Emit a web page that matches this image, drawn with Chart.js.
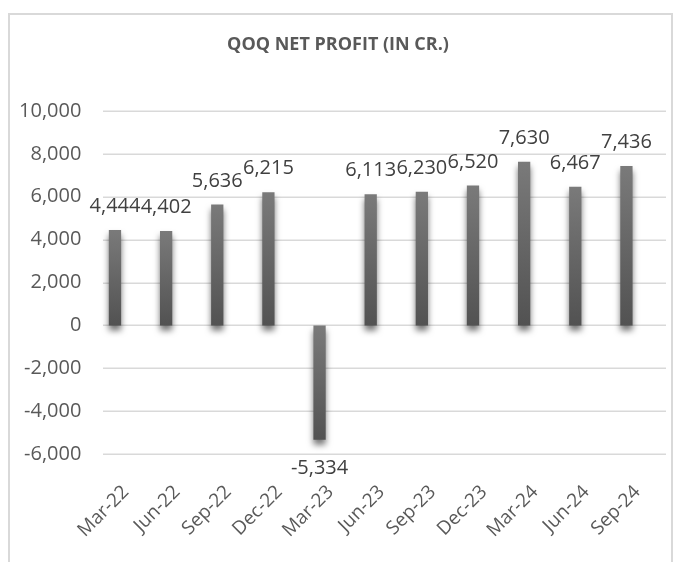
<!DOCTYPE html>
<html>
<head>
<meta charset="utf-8">
<script src="https://cdn.jsdelivr.net/npm/chart.js@4"></script>
<style>
  html, body { margin: 0; padding: 0; background: #fff; }
  #frame {
    position: absolute; left: 8px; top: 13px; width: 661px; height: 560px;
    border: 2px solid #d9d9d9; border-bottom: none;
  }
  #wrap { position: absolute; left: 0; top: 0; width: 676px; height: 562px; }
</style>
</head>
<body>
<div id="frame"></div>
<div id="wrap"><canvas id="profitChart" width="676" height="562"></canvas></div>
<script>
const categories = ["Mar-22", "Jun-22", "Sep-22", "Dec-22", "Mar-23", "Jun-23",
  "Sep-23", "Dec-23", "Mar-24", "Jun-24", "Sep-24"];
const netProfit = [4444, 4402, 5636, 6215, -5334, 6113, 6230, 6520, 7630, 6467, 7436];
const yMin = -6000;
const yMax = 10000;
const yStep = 2000;

const fmt = v => v.toLocaleString("en-US");

// horizontal gridlines; in the original they run a bit past the bar area on the right
const gridLines = {
  id: "gridLines",
  beforeDatasetsDraw(chart) {
    const ctx = chart.ctx;
    const y = chart.scales.y;
    ctx.save();
    ctx.strokeStyle = "#d9d9d9";
    ctx.lineWidth = 1.5;
    y.ticks.forEach(t => {
      const py = Math.round(y.getPixelForValue(t.value)) + 0.25;
      ctx.beginPath();
      ctx.moveTo(103, py);
      ctx.lineTo(666, py);
      ctx.stroke();
    });
    ctx.restore();
  }
};

// soft drop shadow under the bars
const barShadow = {
  id: "barShadow",
  beforeDatasetDraw(chart) {
    const ctx = chart.ctx;
    ctx.save();
    ctx.shadowColor = "rgba(0,0,0,0.55)";
    ctx.shadowBlur = 6;
    ctx.shadowOffsetY = 5;
  },
  afterDatasetDraw(chart) {
    chart.ctx.restore();
  }
};

// value labels above / below each bar
const valueLabels = {
  id: "valueLabels",
  afterDatasetsDraw(chart) {
    const ctx = chart.ctx;
    const meta = chart.getDatasetMeta(0);
    ctx.save();
    ctx.font = "20px 'Open Sans'";
    ctx.fillStyle = "#404040";
    ctx.textAlign = "center";
    ctx.textBaseline = "alphabetic";
    meta.data.forEach((bar, i) => {
      const v = netProfit[i];
      const y = v >= 0 ? bar.y - 18 : bar.y + 34;
      ctx.fillText(fmt(v), bar.x, y);
    });
    ctx.restore();
  }
};

new Chart(document.getElementById("profitChart"), {
  type: "bar",
  data: {
    labels: categories,
    datasets: [{
      label: "Net Profit",
      data: netProfit,
      barPercentage: 0.24,
      categoryPercentage: 1,
      backgroundColor: c => {
        const chart = c.chart;
        if (!chart.chartArea || c.dataIndex === undefined) return "#666";
        const v = netProfit[c.dataIndex];
        const y = chart.scales.y;
        const top = y.getPixelForValue(Math.max(v, 0));
        const bot = y.getPixelForValue(Math.min(v, 0));
        const g = chart.ctx.createLinearGradient(0, top, 0, bot);
        g.addColorStop(0, "#7a7a7a");
        g.addColorStop(1, "#525252");
        return g;
      }
    }]
  },
  options: {
    responsive: false,
    animation: false,
    layout: { padding: 0 },
    plugins: {
      legend: { display: false },
      tooltip: { enabled: false },
      title: {
        display: true,
        text: "QOQ NET PROFIT (IN CR.)",
        color: "#595959",
        font: { family: "'Open Sans'", size: 18, weight: "bold", lineHeight: 1.2 },
        padding: { top: 34, bottom: 55.4 }
      }
    },
    scales: {
      x: {
        grid: { display: false, drawTicks: false },
        border: { display: false },
        ticks: {
          color: "#595959",
          font: { family: "'Open Sans'", size: 19 },
          minRotation: 45,
          maxRotation: 45,
          padding: 27,
          labelOffset: 11
        },
        afterFit: s => { s.height = 108; }
      },
      y: {
        min: yMin,
        max: yMax,
        grid: { display: false, drawTicks: false },
        border: { display: false },
        ticks: {
          stepSize: yStep,
          color: "#595959",
          font: { family: "'Open Sans'", size: 20 },
          padding: 8,
          callback: v => fmt(v)
        },
        afterFit: s => { s.width = 89.4; }
      },
      // empty right-hand spacer so the bars end where they do in the original
      spacer: {
        type: "linear",
        position: "right",
        min: yMin,
        max: yMax,
        grid: { display: false, drawTicks: false },
        border: { display: false },
        ticks: { display: false },
        afterFit: s => { s.width = 24; }
      }
    }
  },
  plugins: [gridLines, barShadow, valueLabels]
});
</script>
</body>
</html>
